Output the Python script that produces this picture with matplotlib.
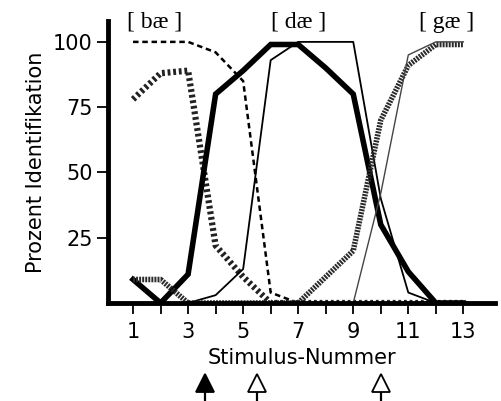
import matplotlib
matplotlib.use('Agg')
import matplotlib.pyplot as plt

stimuli = list(range(1, 14))

# [bae]
bae_thin = [100, 100, 100, 96, 85, 4, 0, 0, 0, 0, 0, 0, 0]
bae_thick = [78, 88, 89, 22, 10, 0, 0, 0, 0, 0, 0, 0, 0]
# [dae]
dae_thick = [9, 0, 11, 80, 89, 99, 99, 90, 80, 30, 12, 0, 0]
dae_thin = [0, 0, 0, 3, 13, 93, 100, 100, 100, 40, 4, 0, 0]
# [gae]
gae_thick = [9, 9, 0, 0, 0, 0, 0, 10, 20, 70, 91, 99, 99]
gae_thin = [0, 0, 0, 0, 0, 0, 0, 0, 0, 42, 95, 100, 100]

category_labels = ['[ bæ ]', '[ dæ ]', '[ gæ ]']
category_x = [1.8, 7.0, 12.4]

arrow_x = [3.6, 5.5, 10.0]
arrow_filled = [True, False, False]

fig = plt.figure(figsize=(5.02, 4.01), dpi=100)
ax = fig.add_axes([108 / 502, 98 / 401, 387 / 502, 282 / 401])

ax.plot(stimuli, bae_thin, color='black', lw=1.8, ls=(0, (2.2, 1.5)))
ax.plot(stimuli, bae_thick, color='#222222', lw=4.5, ls=(0, (0.45, 0.45)))
ax.plot(stimuli, dae_thick, color='black', lw=4, solid_joinstyle='miter')
ax.plot(stimuli, dae_thin, color='black', lw=1.3)
ax.plot(stimuli, gae_thick, color='#2a2a2a', lw=4, ls=(0, (0.35, 0.2)))
ax.plot(stimuli, gae_thin, color='#444444', lw=1.0)

ax.set_xlim(0.09, 14.15)
ax.set_ylim(0, 108)

ax.set_xticks(stimuli)
ax.set_xticklabels([str(s) if s % 2 == 1 else '' for s in stimuli])
ax.set_yticks([25, 50, 75, 100])
ax.set_yticklabels(['25', '50', '75', '100'])

for side in ['top', 'right']:
    ax.spines[side].set_visible(False)
for side in ['left', 'bottom']:
    ax.spines[side].set_linewidth(3.5)
    ax.spines[side].set_capstyle('projecting')

ax.tick_params(axis='both', direction='out', length=8, width=1.3,
               labelsize=15, pad=3)
ax.tick_params(axis='x', pad=6)
for lab in ax.get_xticklabels() + ax.get_yticklabels():
    lab.set_family('DejaVu Sans')

ax.set_xlabel('Stimulus-Nummer', fontsize=15, family='DejaVu Sans', labelpad=4)
ax.set_ylabel('Prozent Identifikation', fontsize=15, family='DejaVu Sans', labelpad=5)

for lab, x in zip(category_labels, category_x):
    ax.text(x, 107.5, lab, ha='center', va='center', fontsize=17,
            family='Liberation Serif', clip_on=False)

for x, filled in zip(arrow_x, arrow_filled):
    ax.plot([x, x], [-33, -38], color='black', lw=1.6, clip_on=False)
    ax.plot(x, -30.5, marker='^', ms=13, mew=1.3, mec='black',
            mfc='black' if filled else 'white', clip_on=False)

fig.savefig('out.png', dpi=100)
